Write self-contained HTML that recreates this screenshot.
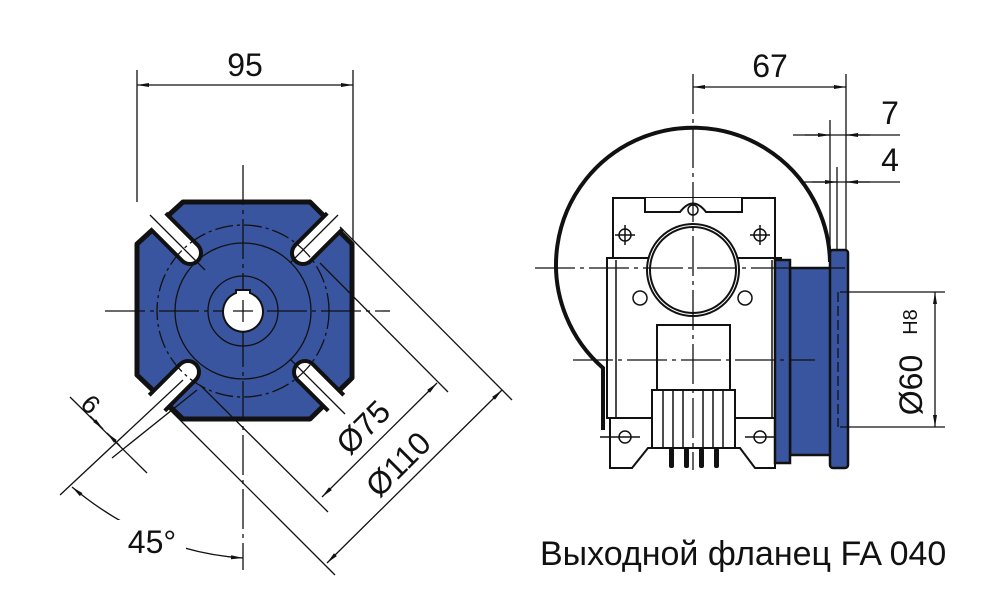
<!DOCTYPE html>
<html><head><meta charset="utf-8"><style>
html,body{margin:0;padding:0;background:#fff;}
svg{display:block;}
text{font-family:"Liberation Sans",sans-serif;fill:#111;}
</style></head><body>
<svg width="1000" height="600" viewBox="0 0 1000 600" xmlns="http://www.w3.org/2000/svg">
<defs>
<marker id="a" viewBox="0 0 12 6" refX="12" refY="3" markerWidth="12" markerHeight="6" orient="auto-start-reverse" markerUnits="userSpaceOnUse"><path d="M0,1 L12,3 L0,5 z" fill="#111"/></marker>
</defs>
<g stroke="#111" fill="none" stroke-width="1.3">
<line x1="137" y1="70" x2="137" y2="202"/>
<line x1="353" y1="70" x2="353" y2="240"/>
<line x1="137" y1="85" x2="353" y2="85" marker-start="url(#a)" marker-end="url(#a)"/>
</g>
<text x="245" y="76" font-size="32" text-anchor="middle">95</text>

<polygon points="183,202 310,202 352,244 352,378 310,419 183,419 137,375 137,244" fill="#3a55a0" stroke="#111" stroke-width="5" stroke-linejoin="round"/>
<g stroke="#111" stroke-width="26">
<line x1="190" y1="253" x2="158" y2="221"/>
<line x1="303" y1="253" x2="335" y2="221"/>
<line x1="188" y1="372" x2="157" y2="403"/>
<line x1="305" y1="372" x2="336" y2="403"/>
</g>
<g fill="#111"><circle cx="190" cy="253" r="13"/><circle cx="303" cy="253" r="13"/><circle cx="188" cy="372" r="13"/><circle cx="305" cy="372" r="13"/></g>
<g stroke="#fff" stroke-width="18">
<line x1="190" y1="253" x2="155" y2="218"/>
<line x1="303" y1="253" x2="338" y2="218"/>
<line x1="188" y1="372" x2="154" y2="406"/>
<line x1="305" y1="372" x2="339" y2="406"/>
</g>
<g fill="#fff"><circle cx="190" cy="253" r="9"/><circle cx="303" cy="253" r="9"/><circle cx="188" cy="372" r="9"/><circle cx="305" cy="372" r="9"/></g>
<g stroke="#111" fill="none" stroke-width="1.3">
<circle cx="243" cy="311" r="86" stroke-dasharray="18,4,3,4"/>
<circle cx="243" cy="311" r="68"/>
<circle cx="243" cy="311" r="35"/>
<line x1="105" y1="311" x2="390" y2="311" stroke-dasharray="40,5,4,5"/>
<line x1="243" y1="165" x2="243" y2="570" stroke-dasharray="40,5,4,5"/>
<line x1="150" y1="215" x2="205" y2="270"/>
<line x1="338" y1="215" x2="290" y2="263"/>
<line x1="290" y1="359" x2="345" y2="414"/>
</g>
<path d="M236,290 L250,290 L250,293 A20,20 0 1 1 236,293 Z" fill="#fff" stroke="#111" stroke-width="2"/>
<g stroke="#111" stroke-width="1.3"><line x1="233" y1="311" x2="253" y2="311"/><line x1="243" y1="300" x2="243" y2="322"/></g>

<g stroke="#111" fill="none" stroke-width="1.3">
<line x1="320" y1="263" x2="448" y2="392"/>
<line x1="200" y1="385" x2="328" y2="512"/>
<line x1="322" y1="497" x2="437" y2="383" marker-start="url(#a)" marker-end="url(#a)"/>
<line x1="340" y1="227" x2="512" y2="400"/>
<line x1="167" y1="407" x2="335" y2="575"/>
<line x1="327" y1="563" x2="502" y2="390" marker-start="url(#a)" marker-end="url(#a)"/>
<line x1="183" y1="380" x2="60" y2="495"/>
<line x1="197" y1="390" x2="112" y2="458"/>
<line x1="70" y1="397" x2="147" y2="473"/>
<line x1="90" y1="416" x2="103" y2="429" marker-end="url(#a)"/>
<line x1="120" y1="446" x2="107" y2="433" marker-end="url(#a)"/>
<path d="M72,487 Q150,552 243,558" marker-start="url(#a)" marker-end="url(#a)"/>
</g>
<text font-size="32" transform="translate(371,435) rotate(-45)" text-anchor="middle">Ø75</text>
<text font-size="32" transform="translate(406,472) rotate(-45)" text-anchor="middle">Ø110</text>
<text font-size="26" transform="translate(97,398) rotate(-135)" text-anchor="middle">9</text>
<rect x="118" y="520" width="68" height="36" fill="#fff"/>
<text x="152" y="553" font-size="32" text-anchor="middle">45°</text>

<path d="M830,262 A137,137 0 1 0 603,368 L603,430" fill="none" stroke="#111" stroke-width="4"/>
<g stroke="#111" fill="#fff" stroke-width="2">
<rect x="613" y="198" width="162" height="60"/>
<rect x="607" y="258" width="174" height="160"/>
<path d="M610,418 L775,418 L775,468 L755,468 L740,448 L648,448 L632,468 L610,468 Z"/>
<path d="M645,198 L645,212 L680,212 Q693,195 706,212 L742,212 L742,198" />
<circle cx="693" cy="270" r="46"/>
<circle cx="693" cy="270" r="43"/>
<rect x="657" y="325" width="73" height="65"/>
<rect x="652" y="390" width="83" height="58"/>
</g>
<g stroke="#111" stroke-width="1.5" fill="none">
<circle cx="625" cy="235" r="6"/><circle cx="760" cy="235" r="6"/><circle cx="693" cy="210" r="5"/>
<circle cx="640" cy="298" r="7"/><circle cx="745" cy="298" r="7"/>
<circle cx="625" cy="437" r="6"/><circle cx="760" cy="437" r="6"/>
<line x1="615" y1="235" x2="635" y2="235"/><line x1="750" y1="235" x2="770" y2="235"/>
<line x1="625" y1="225" x2="625" y2="245"/><line x1="760" y1="225" x2="760" y2="245"/>
<line x1="600" y1="437" x2="640" y2="437"/><line x1="745" y1="437" x2="775" y2="437"/>
<line x1="663" y1="390" x2="663" y2="448"/><line x1="673" y1="390" x2="673" y2="448"/>
<line x1="683" y1="390" x2="683" y2="448"/><line x1="703" y1="390" x2="703" y2="448"/>
<line x1="713" y1="390" x2="713" y2="448"/><line x1="723" y1="390" x2="723" y2="448"/>
<line x1="616" y1="260" x2="616" y2="418"/><line x1="772" y1="260" x2="772" y2="418"/>
</g>
<g fill="#111"><rect x="669" y="448" width="5" height="20" rx="2"/><rect x="684" y="448" width="5" height="20" rx="2"/><rect x="699" y="448" width="5" height="20" rx="2"/><rect x="714" y="448" width="5" height="20" rx="2"/></g>
<g fill="#3a55a0" stroke="#111" stroke-width="2.5">
<rect x="790" y="268" width="42" height="187"/>
<rect x="775" y="260" width="15" height="203"/>
<rect x="830" y="250" width="18" height="218" rx="3"/>
</g>
<line x1="838" y1="292" x2="838" y2="427" stroke="#111" stroke-width="1.3" stroke-dasharray="10,4"/>
<g stroke="#111" stroke-width="1.3" fill="none">
<line x1="535" y1="268" x2="850" y2="268" stroke-dasharray="40,5,4,5"/>
<line x1="573" y1="360" x2="815" y2="360" stroke-dasharray="40,5,4,5"/>
<line x1="693" y1="74" x2="693" y2="470" stroke-dasharray="40,5,4,5"/>
<line x1="846" y1="74" x2="846" y2="250"/>
<line x1="693" y1="87" x2="846" y2="87" marker-start="url(#a)" marker-end="url(#a)"/>
<line x1="830" y1="120" x2="830" y2="250"/>
<line x1="837" y1="167" x2="837" y2="250"/>
<line x1="793" y1="135" x2="900" y2="135"/>
<line x1="800" y1="182" x2="900" y2="182"/>
<line x1="805" y1="135" x2="830" y2="135" marker-end="url(#a)"/>
<line x1="870" y1="135" x2="846" y2="135" marker-end="url(#a)"/>
<line x1="812" y1="182" x2="837" y2="182" marker-end="url(#a)"/>
<line x1="870" y1="182" x2="846" y2="182" marker-end="url(#a)"/>
<line x1="840" y1="292" x2="945" y2="292"/>
<line x1="840" y1="427" x2="945" y2="427"/>
<line x1="935" y1="292" x2="935" y2="427" marker-start="url(#a)" marker-end="url(#a)"/>
</g>
<text x="770" y="77" font-size="32" text-anchor="middle">67</text>
<text x="890" y="124" font-size="32" text-anchor="middle">7</text>
<text x="890" y="171" font-size="32" text-anchor="middle">4</text>
<text font-size="32" transform="translate(922,385) rotate(-90)" text-anchor="middle">Ø60</text>
<text font-size="20" transform="translate(917,322) rotate(-90)" text-anchor="middle">H8</text>
<text x="540" y="565" font-size="34">Выходной фланец FA 040</text>
</svg>
</body></html>
